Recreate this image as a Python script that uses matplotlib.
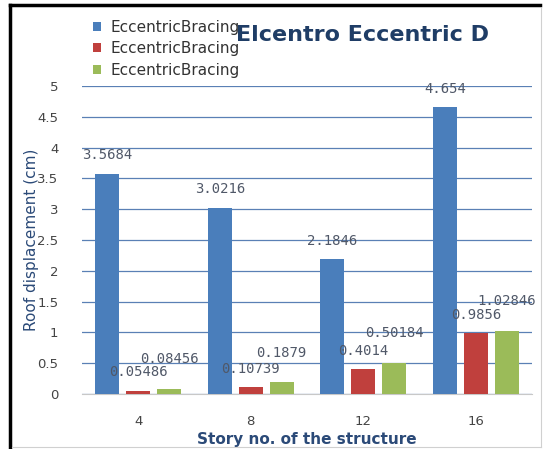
import numpy as np
import matplotlib.pyplot as plt
from matplotlib.lines import Line2D

# data
stories = ['4', '8', '12', '16']
series_names = ['EccentricBracing', 'EccentricBracing', 'EccentricBracing']
blue_vals = [3.5684, 3.0216, 2.1846, 4.654]
red_vals = [0.05486, 0.10739, 0.4014, 0.9856]
green_vals = [0.08456, 0.1879, 0.50184, 1.02846]
yticks = [0, 0.5, 1, 1.5, 2, 2.5, 3, 3.5, 4, 4.5, 5]

colors = ['#4a7ebb', '#c0403d', '#9bbb59']
label_offsets = [13.5, 13.5, 21.5]

fig = plt.figure(figsize=(5.43, 4.49), dpi=100)
ax = fig.add_axes([82 / 543, 1 - 394 / 449, 450 / 543, 308 / 449])

x = np.arange(len(stories))
w = 0.215
step = 0.275
for i, (vals, c) in enumerate(zip([blue_vals, red_vals, green_vals], colors)):
    pos = x + (i - 1) * step
    bars = ax.bar(pos, vals, width=w, color=c, label=series_names[i], zorder=3)
    for b, v in zip(bars, vals):
        ax.annotate(f'{v:g}', (b.get_x() + b.get_width() / 2, v),
                    xytext=(0, label_offsets[i]), textcoords='offset points',
                    ha='center', va='center', fontsize=10,
                    family='DejaVu Sans Mono', color='#505868', zorder=4)

ax.set_xlim(-0.5, 3.5)
ax.set_ylim(0, 5)
ax.set_yticks(yticks)
ax.set_yticklabels([f'{t:g}' for t in yticks], color='#444444', fontsize=9.5)
ax.set_xticks(x)
ax.set_xticklabels(stories, color='#444444', fontsize=9.5)
ax.tick_params(axis='x', length=0, pad=15)
ax.tick_params(axis='y', length=0, pad=17)
ax.grid(axis='y', color='#5a80b5', linewidth=0.9, zorder=0)
for s in ['left', 'right', 'top']:
    ax.spines[s].set_visible(False)
ax.spines['bottom'].set_color('#c8c8c8')

ax.set_xlabel('Story no. of the structure', fontsize=11, fontweight='bold',
              color='#2b4a78')
ax.xaxis.set_label_coords(0.5, -0.147)
ax.xaxis.label.set_verticalalignment('center')
ax.set_ylabel('Roof displacement (cm)', fontsize=11, color='#2b4a78')
ax.yaxis.set_label_coords(-0.112, 0.5)
ax.yaxis.label.set_verticalalignment('center')

fig.text(362 / 543, 1 - 35 / 449, 'Elcentro Eccentric D', fontsize=16,
         fontweight='bold', color='#1f3d66', ha='center', va='center')

ax.legend(loc='upper left', bbox_to_anchor=(79 / 543, 1 - 6 / 449),
          bbox_transform=fig.transFigure, frameon=False, fontsize=11,
          handlelength=0.55, handleheight=0.55, handletextpad=0.6,
          labelspacing=0.42, labelcolor='#333333')

# frame lines around the picture
fig.add_artist(Line2D([10 / 543, 540 / 543], [1 - 5 / 449, 1 - 5 / 449],
                      transform=fig.transFigure, color='black', linewidth=2.5))
fig.add_artist(Line2D([10 / 543, 10 / 543], [1 - 5 / 449, 0],
                      transform=fig.transFigure, color='black', linewidth=2.5))
fig.add_artist(Line2D([541 / 543, 541 / 543], [1 - 8 / 449, 1 - 447 / 449],
                      transform=fig.transFigure, color='#d0d0d0', linewidth=0.8))
fig.add_artist(Line2D([12 / 543, 541 / 543], [1 - 447 / 449, 1 - 447 / 449],
                      transform=fig.transFigure, color='#d0d0d0', linewidth=0.8))

fig.savefig('out.png', dpi=100)
